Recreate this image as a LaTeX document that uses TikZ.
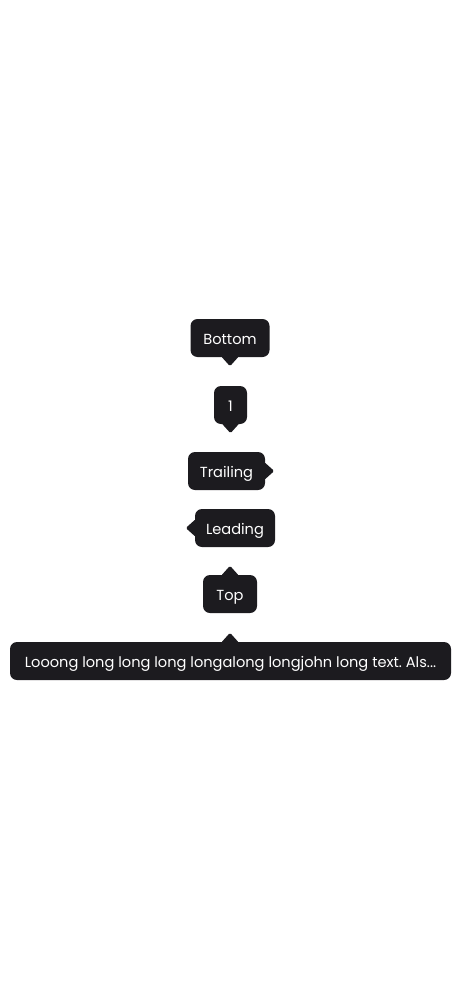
\documentclass[tikz,border=0pt]{standalone}
\usepackage{fontspec}
\setmainfont{Poppins}
\frenchspacing
\definecolor{tipdark}{HTML}{1C1B1F}
\begin{document}
\begin{tikzpicture}[x=1pt,y=1pt]

\tikzstyle{tooltip}=[fill=tipdark,text=white,rounded corners=7pt,minimum height=38pt,inner xsep=0pt,inner ysep=0pt,text height=12pt,text depth=0pt,font=\fontsize{14.6}{18}\selectfont]
\tikzstyle{pointer}=[fill=tipdark,rounded corners=1.5pt]

\def \tw {9pt}

\useasboundingbox (0,0) rectangle (461,-1000);

\foreach \name/\x/\y/\w/\txt in {bottom/230/-338/79/Bottom, one/230.5/-405/33/1, trailing/226.5/-471/77/Trailing, leading/235/-528/80/Leading, top/230/-594/54/Top}
{
  \node[tooltip,minimum width=\w pt] (\name) at (\x,\y) {\txt};
}
\node[tooltip,minimum width=441pt] (long) at (230.5,-661) {Looong long long long longalong longjohn long text. Als...};

% pointers
\foreach \name in {bottom, one}
{
  \path[pointer] ([xshift=-\tw,yshift=1pt]\name.south) -- ([yshift=-\tw]\name.south) -- ([xshift=\tw,yshift=1pt]\name.south) -- cycle;
}
\path[pointer] ([yshift=-\tw,xshift=-1pt]trailing.east) -- ([xshift=\tw]trailing.east) -- ([yshift=\tw,xshift=-1pt]trailing.east) -- cycle;
\path[pointer] ([yshift=-\tw,xshift=1pt]leading.west) -- ([xshift=-\tw]leading.west) -- ([yshift=\tw,xshift=1pt]leading.west) -- cycle;
\foreach \name/\dx in {top/0, long/-0.5}
{
  \path[pointer] ([xshift=\dx-\tw,yshift=-1pt]\name.north) -- ([xshift=\dx,yshift=\tw]\name.north) -- ([xshift=\dx+\tw,yshift=-1pt]\name.north) -- cycle;
}
\end{tikzpicture}
\end{document}
